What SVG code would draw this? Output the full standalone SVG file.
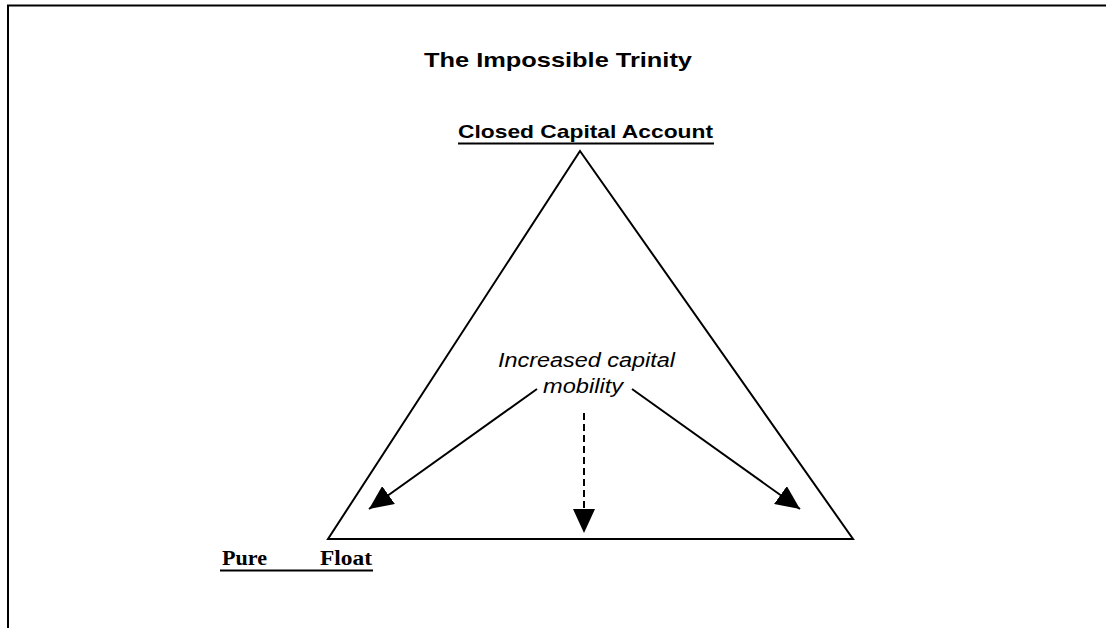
<svg xmlns="http://www.w3.org/2000/svg" width="1106" height="628" viewBox="0 0 1106 628">
  <style>
    .frame { fill: none; stroke: #000; stroke-width: 2; }
    .edge { fill: none; stroke: #000; stroke-width: 2; stroke-linejoin: miter; }
    .link { fill: none; stroke: #000; stroke-width: 2; }
    .dash { stroke-dasharray: 7 4; }
    .sans { font-family: "Liberation Sans", Arial, sans-serif; fill: #000; }
    .serif { font-family: "Liberation Serif", "Times New Roman", serif; fill: #000; }
    .bold { font-weight: bold; }
    .ital { font-style: italic; }
    .rule { stroke: #000; stroke-width: 2; }
  </style>
  <defs>
    <marker id="head" markerUnits="userSpaceOnUse" markerWidth="24" markerHeight="22" refX="24" refY="11" orient="auto">
      <path d="M0,0 L24,11 L0,22 Z" fill="#000"/>
    </marker>
  </defs>

  <rect width="1106" height="628" fill="#fff"/>

  <!-- page frame: left and top rules only -->
  <path class="frame" d="M8,628 V5.5 H1106"/>

  <!-- title -->
  <g id="title">
    <text class="sans bold" x="424" y="67" font-size="21" textLength="268" lengthAdjust="spacingAndGlyphs">The Impossible Trinity</text>
  </g>

  <!-- the trinity triangle -->
  <g id="triangle">
    <path class="edge" d="M580,151 L853,539 L328,539 Z"/>
  </g>

  <!-- vertex labels -->
  <g id="closed-capital-account">
    <text class="sans bold" x="458" y="138" font-size="19" textLength="255" lengthAdjust="spacingAndGlyphs">Closed Capital Account</text>
    <line class="rule" x1="458" y1="143.5" x2="714" y2="143.5"/>
  </g>

  <g id="pure-float">
    <text class="serif bold" x="222" y="565" font-size="20" textLength="45" lengthAdjust="spacingAndGlyphs">Pure</text>
    <text class="serif bold" x="320" y="565" font-size="20" textLength="52" lengthAdjust="spacingAndGlyphs">Float</text>
    <line class="rule" x1="220" y1="570.5" x2="373" y2="570.5"/>
  </g>

  <!-- central label -->
  <g id="capital-mobility">
    <text class="sans ital" x="498" y="367" font-size="20" textLength="177" lengthAdjust="spacingAndGlyphs">Increased capital</text>
    <text class="sans ital" x="543" y="393" font-size="20" textLength="80" lengthAdjust="spacingAndGlyphs">mobility</text>
  </g>

  <!-- connectors -->
  <g id="connectors">
    <line class="link" x1="537" y1="389" x2="369" y2="509" marker-end="url(#head)"/>
    <line class="link" x1="632" y1="389" x2="800" y2="509" marker-end="url(#head)"/>
    <line class="link dash" x1="584" y1="413" x2="584" y2="533" marker-end="url(#head)"/>
  </g>
</svg>
